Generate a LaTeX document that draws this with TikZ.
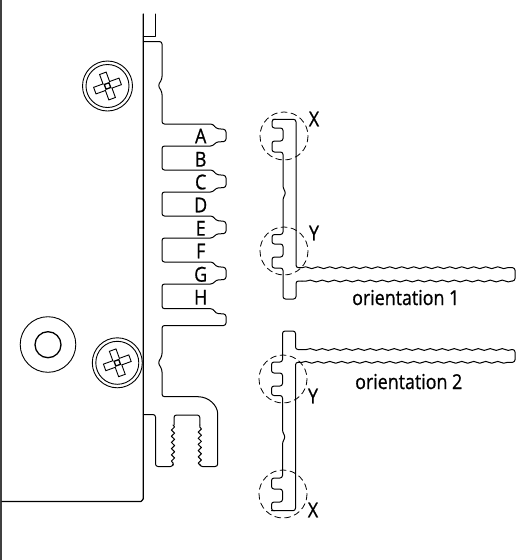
\documentclass[tikz,border=0pt]{standalone}
\usepackage{fontspec}
\setmainfont[FakeStretch=0.87,FakeBold=0.8]{Open Sans}
\usetikzlibrary{decorations.pathmorphing}
\definecolor{barcol}{gray}{0.25}
\tikzset{
  ln/.style={line width=1pt,line join=round,line cap=round},
  part/.style={ln,rounded corners=2.5pt},
  tiny wave/.style={decoration={snake,amplitude=0.9pt,segment length=12pt}},
  thread/.style={decoration={snake,amplitude=1.6pt,segment length=6.2pt}},
  lbl/.style={font=\fontsize{20.5}{20.5}\selectfont,inner sep=0pt,text=black},
  halo/.style={ln,dashed,dash pattern=on 6pt off 4pt,line width=.8pt},
  pics/screw/.style={code={
    \draw[line width=.9pt] (0,0) circle (25);
    \draw[line width=.9pt] (0,0) circle (21.5);
    \begin{scope}[rotate=20]
      \draw[line width=.9pt,line join=miter] (-3.5,-13.5)--(3.5,-13.5)--(3.5,-3.5)--(13.5,-3.5)--(13.5,3.5)--(3.5,3.5)--(3.5,13.5)--(-3.5,13.5)--(-3.5,3.5)--(-13.5,3.5)--(-13.5,-3.5)--(-3.5,-3.5)--cycle;
      \draw[line width=1.3pt] (-2.5,-2.5) rectangle (2.5,2.5);
    \end{scope}
  }}
}
\begin{document}
\begin{tikzpicture}[x=1pt,y=-1pt]
\useasboundingbox (0,0) rectangle (524,560);
% panel
\draw[line width=1.7pt,barcol] (0.8,0) -- (0.8,560);
\draw[ln,line width=1.2pt] (2,501.5) -- (141,501.5) to[out=0,in=90] (143.3,499) -- (143.3,14);
\draw[ln] (143.3,36) -- (155,36) -- (155,14);
% comb plate
\draw[part] (143.3,41.5) -- (162,41.5) -- (162,79) -- (158,85.5) -- (162,92) -- (162,124)
  -- (213,124) -- (216,128.5) -- (226,129.5) -- (226,141.5) -- (216,142) -- (213,146) -- (162,146) -- (162,170)
  -- (213,170) -- (216,174.5) -- (226,175.5) -- (226,187.5) -- (216,188) -- (213,192) -- (162,192) -- (162,216)
  -- (213,216) -- (216,220.5) -- (226,221.5) -- (226,233.5) -- (216,234) -- (213,238) -- (162,238) -- (162,262)
  -- (213,262) -- (216,266.5) -- (226,267.5) -- (226,279.5) -- (216,280) -- (213,284) -- (162,284) -- (162,308.7)
  -- (213,308.7) -- (216,313.5) -- (226,314) -- (226,325.5) -- (162,325.5) -- (162,356) -- (158,362.7) -- (162,369.5) -- (162,396.7) -- (198,396.7);
\draw[part] (198,396.7) arc[start angle=-90,end angle=0,radius=19.7] -- (217.7,466.5) -- (200,466.5) -- (199.8,465);
\draw[ln,decorate,thread] (199.8,465) -- (199.8,425);
\draw[part] (199.8,425) -- (199.8,415) -- (174,415) -- (174,425);
\draw[ln,decorate,thread] (173,425) -- (173,465);
\draw[part] (173,465) -- (173,466.5) -- (155.5,466.5) -- (155.5,414.5) -- (143.3,414.5);
% washer
\draw[line width=.9pt] (48,344.5) circle (27.8);
\draw[line width=1.3pt] (48,344.7) circle (13);
% screws
\pic at (107.5,86) {screw};
\pic at (117.3,362.8) {screw};
% part orientation 1
\draw[part] (273,119.3) -- (296,119.3) -- (296,267.7) -- (302,267.7);
\draw[ln,decorate,tiny wave] (302,267.7) -- (512,267.7);
\draw[part] (512,267.7) -- (515,267.7) -- (515,281) -- (512,281);
\draw[ln,decorate,tiny wave] (512,281) -- (302,281);
\draw[part] (302,281) -- (296,281) -- (296,299) -- (283,299) -- (283,268) -- (272,268) -- (272,257) -- (283,257) -- (283,244) -- (272,244) -- (272,234.5) -- (283,234.5)
  -- (283,198) -- (286,193) -- (283,188) -- (283,152) -- (272,152) -- (272,141) -- (283,141) -- (283,128) -- (272,128) -- (272,119.3) -- (276,119.3);
\draw[halo] (284,136) circle (24);
\draw[halo] (284,251) circle (24);
% part orientation 2
\draw[part] (271.5,510.7) -- (295.5,510.7) -- (295.5,362.3) -- (302,362.3);
\draw[ln,decorate,tiny wave] (302,362.3) -- (512,362.3);
\draw[part] (512,362.3) -- (515,362.3) -- (515,349.5) -- (512,349.5);
\draw[ln,decorate,tiny wave] (512,349.5) -- (302,349.5);
\draw[part] (302,349.5) -- (295.5,349.5) -- (295.5,331) -- (282.5,331) -- (282.5,362) -- (271.5,362) -- (271.5,373) -- (282.5,373) -- (282.5,386) -- (271.5,386) -- (271.5,395.5) -- (282.5,395.5)
  -- (282.5,432) -- (285.5,437) -- (282.5,442) -- (282.5,478) -- (271.5,478) -- (271.5,489) -- (282.5,489) -- (282.5,502) -- (271.5,502) -- (271.5,510.7) -- (275,510.7);
\draw[halo] (283,379) circle (24);
\draw[halo] (283,494) circle (24);
% labels
\node[lbl] (la) at (200.7,136) {A};
\node[lbl] (lb) at (200.7,159.3) {B};
\node[lbl] (lc) at (200.7,182) {C};
\node[lbl] (ld) at (200.7,205) {D};
\node[lbl] (le) at (200.7,228.3) {E};
\node[lbl] (lf) at (200.7,251) {F};
\node[lbl] (lg) at (200.7,274.3) {G};
\node[lbl] (lh) at (200.7,297.3) {H};
\node[lbl] (x1) at (314,119) {X};
\node[lbl] (y1) at (314,233) {Y};
\node[lbl] (y2) at (313,396) {Y};
\node[lbl] (x2) at (313,510) {X};
\node[lbl,anchor=base west] (o1) at (352,305) {orientation 1};
\node[lbl,anchor=base west] (o2) at (355,389) {orientation 2};
\end{tikzpicture}
\end{document}
